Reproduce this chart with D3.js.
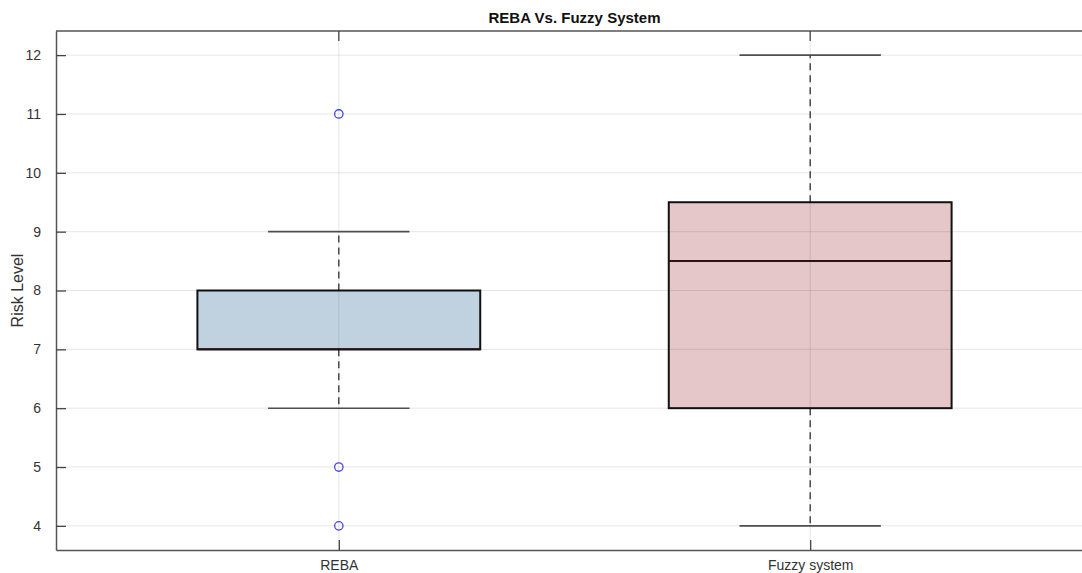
<!DOCTYPE html>
<html>
<head>
<meta charset="UTF-8">
<script src="https://cdnjs.cloudflare.com/ajax/libs/d3/7.8.5/d3.min.js"></script>
<style>
  body { margin: 0; background: #fff; font-family: "Liberation Sans", Arial, sans-serif; }
  svg text { fill: #262626; }
</style>
</head>
<body>
<svg id="chart" width="1082" height="573"></svg>
<script>
// box data
const groups = ["REBA", "Fuzzy system"];
const q1 = [7, 6];
const median = [7, 8.5];
const q3 = [8, 9.5];
const whiskerLow = [6, 4];
const whiskerHigh = [9, 12];
const outliers = [[11, 5, 4], []];
const fills = ["#c0d1df", "#e5c6c9"];
const yTicks = [4, 5, 6, 7, 8, 9, 10, 11, 12];

const svg = d3.select("#chart");
const plotLeft = 56, plotTop = 31, plotBottom = 550, plotRight = 1093;

const x = d3.scaleLinear().domain([0.4, 2.6]).range([plotLeft, plotRight]);
const y = d3.scaleLinear().domain([3.59, 12.41]).range([plotBottom, plotTop]);
const boxHalf = 0.3, capHalf = 0.15;

const g = svg.append("g");

// boxes first, grid drawn on top with transparency
groups.forEach((name, i) => {
  const cx = x(i + 1);
  // whiskers
  g.append("line").attr("x1", cx).attr("x2", cx)
    .attr("y1", y(q3[i])).attr("y2", y(whiskerHigh[i]))
    .attr("stroke", "#333").attr("stroke-width", 1.3).attr("stroke-dasharray", "7,5");
  g.append("line").attr("x1", cx).attr("x2", cx)
    .attr("y1", y(q1[i])).attr("y2", y(whiskerLow[i]))
    .attr("stroke", "#333").attr("stroke-width", 1.3).attr("stroke-dasharray", "7,5");
  // caps
  [whiskerLow[i], whiskerHigh[i]].forEach(v => {
    g.append("line").attr("x1", x(i + 1 - capHalf)).attr("x2", x(i + 1 + capHalf))
      .attr("y1", y(v)).attr("y2", y(v))
      .attr("stroke", "#555").attr("stroke-width", 1.6);
  });
  // box
  g.append("rect")
    .attr("x", x(i + 1 - boxHalf)).attr("y", y(q3[i]))
    .attr("width", x(i + 1 + boxHalf) - x(i + 1 - boxHalf))
    .attr("height", y(q1[i]) - y(q3[i]))
    .attr("fill", fills[i]).attr("stroke", "#111").attr("stroke-width", 2);
  // median
  g.append("line").attr("x1", x(i + 1 - boxHalf)).attr("x2", x(i + 1 + boxHalf))
    .attr("y1", y(median[i])).attr("y2", y(median[i]))
    .attr("stroke", "#2a1414").attr("stroke-width", 2);
  // outliers
  g.selectAll(null).data(outliers[i]).enter().append("circle")
    .attr("cx", cx).attr("cy", d => y(d)).attr("r", 4.2)
    .attr("fill", "none").attr("stroke", "#4a4ae0").attr("stroke-width", 1.3);
});

// grid
svg.append("g").selectAll("line").data(yTicks).enter().append("line")
  .attr("x1", plotLeft).attr("x2", plotRight).attr("y1", d => y(d)).attr("y2", d => y(d))
  .attr("stroke", "#000").attr("stroke-opacity", 0.1).attr("stroke-width", 1);
svg.append("g").selectAll("line").data(groups).enter().append("line")
  .attr("x1", (d, i) => x(i + 1)).attr("x2", (d, i) => x(i + 1))
  .attr("y1", plotTop).attr("y2", plotBottom)
  .attr("stroke", "#000").attr("stroke-opacity", 0.1).attr("stroke-width", 1);

// axes
const yAxis = svg.append("g").attr("transform", `translate(${plotLeft},0)`)
  .call(d3.axisLeft(y).tickValues(yTicks).tickSizeInner(-10).tickSizeOuter(0).tickPadding(15));
const xAxis = svg.append("g").attr("transform", `translate(0,${plotBottom})`)
  .call(d3.axisBottom(x).tickValues([1, 2]).tickFormat((d, i) => groups[i])
    .tickSizeInner(-10).tickSizeOuter(0).tickPadding(13));
[yAxis, xAxis].forEach(a => {
  a.select(".domain").attr("stroke", "#555").attr("stroke-width", 1.5);
  a.selectAll(".tick line").attr("stroke", "#444").attr("stroke-width", 1.3);
  a.selectAll("text").attr("font-size", 14).attr("font-family", "Liberation Sans, Arial, sans-serif").style("fill", "#333");
});
xAxis.selectAll("text").attr("dy", "0.5em");

// top border + top ticks
svg.append("line").attr("x1", plotLeft).attr("x2", plotRight).attr("y1", plotTop).attr("y2", plotTop)
  .attr("stroke", "#555").attr("stroke-width", 1.5);
svg.append("g").selectAll("line").data([1, 2]).enter().append("line")
  .attr("x1", d => x(d)).attr("x2", d => x(d)).attr("y1", plotTop).attr("y2", plotTop + 10)
  .attr("stroke", "#444").attr("stroke-width", 1.3);

// title + label
svg.append("text").attr("x", (x(1) + x(2)) / 2).attr("y", 23)
  .attr("text-anchor", "middle").attr("font-size", 15).attr("font-weight", "bold")
  .style("fill", "#111").text("REBA Vs. Fuzzy System");
svg.append("text").attr("transform", `translate(23,${(plotTop + plotBottom) / 2}) rotate(-90)`)
  .attr("text-anchor", "middle").attr("font-size", 16)
  .style("fill", "#333").text("Risk Level");
</script>
</body>
</html>
